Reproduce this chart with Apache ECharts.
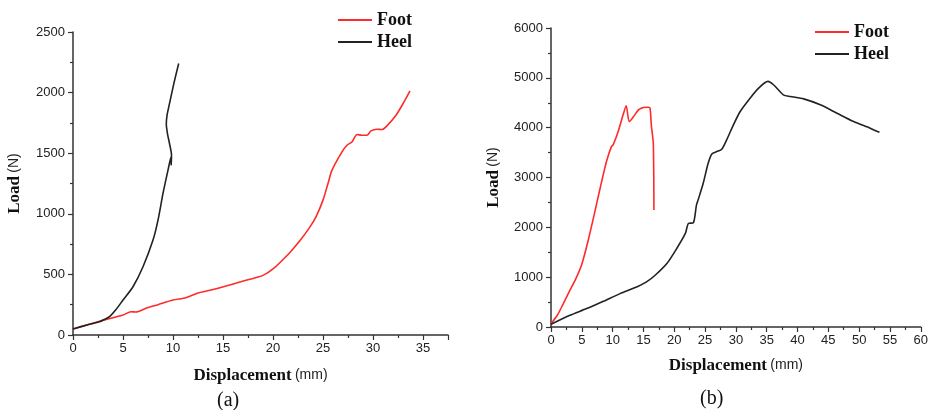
<!DOCTYPE html>
<html>
<head>
<meta charset="utf-8">
<script src="https://cdn.jsdelivr.net/npm/echarts@6/dist/echarts.min.js"></script>
<style>
  html, body { margin: 0; padding: 0; background: #fff; }
  #chart { width: 931px; height: 410px; }
</style>
</head>
<body>
<div id="chart"></div>
<script>
  // (a) displacement (mm) / load (N)
  var footA = [[0, 50], [2.5, 110], [5, 165], [5.8, 192], [6.3, 190], [7.3, 220], [8.5, 250], [10, 288],
    [11.3, 308], [12.6, 349], [14, 375], [15.3, 404], [16.6, 435], [18, 467], [19, 492], [20, 545],
    [21.6, 673], [22.6, 769], [23.6, 880], [24.3, 975], [25, 1113], [25.5, 1250], [25.9, 1360], [26.9, 1511],
    [27.4, 1566], [27.9, 1593], [28.4, 1654], [28.9, 1648], [29.4, 1648], [29.8, 1684], [30.4, 1698],
    [30.9, 1695], [31.3, 1717], [32.3, 1813], [33.1, 1923], [33.7, 2014]]
  var heelA = [[0, 50], [1.5, 85], [2.66, 110], [3.3, 135], [3.66, 151], [4.3, 210], [5, 288], [6, 398],
    [7, 563], [8, 783], [8.5, 948], [9, 1168], [9.5, 1360], [9.8, 1470], [9.82, 1400], [9.85, 1485],
    [9.65, 1580], [9.45, 1660], [9.33, 1740], [9.4, 1810], [9.6, 1890], [10.1, 2080], [10.57, 2240]]

  // (b)
  var footB = [[0, 67], [1, 230], [2, 470], [3, 720], [4, 960], [5, 1260], [6, 1720], [7, 2250],
    [8, 2800], [9, 3320], [9.8, 3620], [10.1, 3660], [10.9, 3922], [11.7, 4257],
    [12.2, 4440], [12.7, 4123], [13.4, 4223], [14.2, 4357], [15, 4404], [15.8, 4411], [16.07, 4391],
    [16.3, 4022], [16.6, 3687], [16.7, 2346]]
  var heelB = [[0, 54], [3.08, 235], [5.79, 369], [8.5, 516], [11.2, 670], [13.9, 804], [15.5, 905],
    [16.9, 1039], [18.8, 1274], [20.4, 1575], [21.8, 1877], [22.3, 2078], [23.1, 2091], [23.6, 2447],
    [23.9, 2561], [24.7, 2883], [25.5, 3285], [26.1, 3473], [26.9, 3520], [27.7, 3566], [28.5, 3754],
    [29.6, 4056], [30.7, 4324], [32.3, 4592], [33.7, 4794], [35.2, 4928], [36.1, 4861], [37.7, 4659],
    [38.8, 4626], [41, 4578], [43.7, 4458], [46.4, 4290], [49.1, 4123], [51.8, 3989], [52.6, 3942], [53.3, 3908]]

  var seriesNames = ['Foot', 'Heel']
  var xName = '{b|Displacement} {n|(mm)}'
  var yName = '{b|Load} {n|(N)}'

  var nameRich = {
    b: { fontFamily: 'Liberation Serif', fontWeight: 'bold', fontSize: 17, color: '#111' },
    n: { fontFamily: 'Liberation Sans', fontSize: 14, color: '#222' }
  }
  var plain = function (v) { return String(v) }

  function xAxis (idx, max, gap) {
    return {
      type: 'value', gridIndex: idx, min: 0, max: max, interval: 5,
      name: xName, nameLocation: 'middle', nameGap: gap,
      nameTextStyle: { rich: nameRich },
      splitLine: { show: false },
      axisLine: { onZero: false, lineStyle: { color: '#333', width: 1.5 } },
      axisTick: { length: 5, lineStyle: { color: '#333', width: 1.2 } },
      minorTick: { show: true, splitNumber: 2, length: 3, lineStyle: { color: '#333', width: 1.2 } },
      axisLabel: { formatter: plain, showMaxLabel: idx === 1, fontFamily: 'Liberation Sans', fontSize: 13, color: '#222', margin: 7 }
    }
  }
  function yAxis (idx, max, interval, gap) {
    return {
      type: 'value', gridIndex: idx, min: 0, max: max, interval: interval,
      name: yName, nameLocation: 'middle', nameGap: gap,
      nameTextStyle: { rich: nameRich },
      splitLine: { show: false },
      axisLine: { show: true, onZero: false, lineStyle: { color: '#333', width: 1.5 } },
      axisTick: { show: true, length: 5, lineStyle: { color: '#333', width: 1.2 } },
      minorTick: { show: true, splitNumber: 2, length: 3, lineStyle: { color: '#333', width: 1.2 } },
      axisLabel: { formatter: plain, fontFamily: 'Liberation Sans', fontSize: 13, color: '#222', margin: 8 }
    }
  }
  function line (name, idx, data, color) {
    return {
      name: name, type: 'line', xAxisIndex: idx, yAxisIndex: idx, data: data,
      symbol: 'none', smooth: 0.25, animation: false,
      lineStyle: { color: color, width: 1.6 }, itemStyle: { color: color }
    }
  }
  function legend (left, top) {
    return {
      data: seriesNames, left: left, top: top, orient: 'vertical',
      icon: 'rect', itemWidth: 34, itemHeight: 2, itemGap: 4,
      textStyle: { fontFamily: 'Liberation Serif', fontWeight: 'bold', fontSize: 18, color: '#111' }
    }
  }

  var chart = echarts.init(document.getElementById('chart'))
  chart.setOption({
    backgroundColor: '#fff',
    animation: false,
    title: [
      { text: '(a)', left: 212, top: 386, textStyle: { fontFamily: 'Liberation Serif', fontWeight: 'normal', fontSize: 20, color: '#111' } },
      { text: '(b)', left: 695, top: 384, textStyle: { fontFamily: 'Liberation Serif', fontWeight: 'normal', fontSize: 20, color: '#111' } }
    ],
    legend: [legend(333, 6), legend(810, 18)],
    grid: [
      { left: 73, top: 32, width: 375, bottom: 75, containLabel: false },
      { left: 551, top: 28, width: 370, bottom: 83, containLabel: false }
    ],
    xAxis: [xAxis(0, 37.5, 32), xAxis(1, 60, 30)],
    yAxis: [yAxis(0, 2500, 500, 50), yAxis(1, 6000, 1000, 49)],
    series: [
      line('Foot', 0, footA, '#ff2a2a'),
      line('Heel', 0, heelA, '#222222'),
      line('Foot', 1, footB, '#ff2a2a'),
      line('Heel', 1, heelB, '#222222')
    ]
  })
</script>
</body>
</html>
